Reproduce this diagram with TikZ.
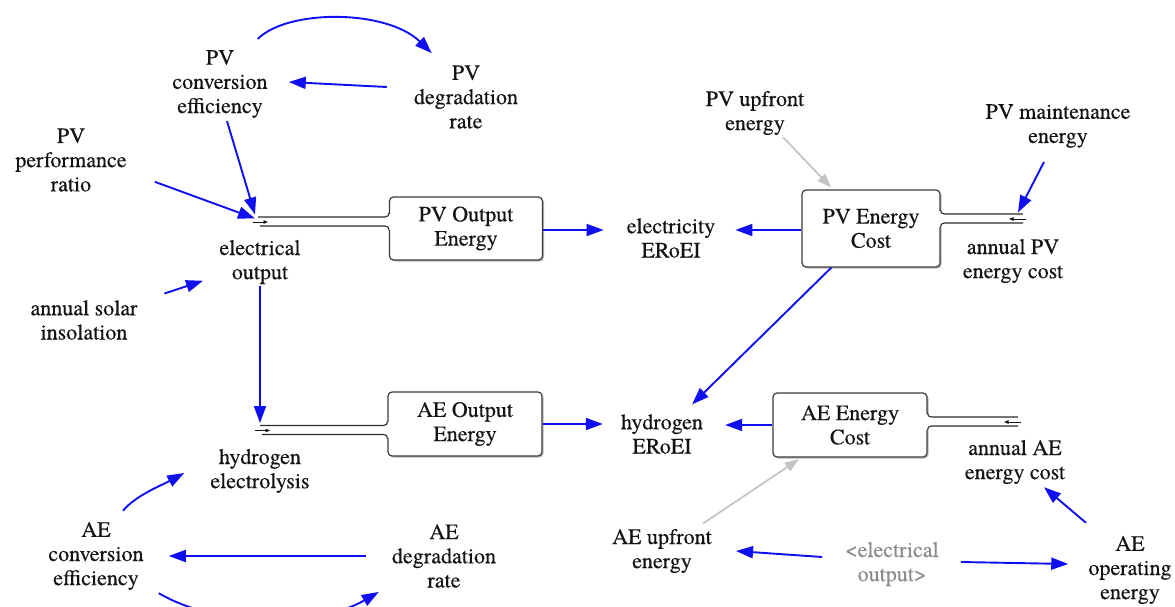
\documentclass[tikz,border=0pt]{standalone}
\usepackage{fontspec}
\setmainfont{texgyretermes}[Extension=.otf,UprightFont=*-regular,BoldFont=*-bold,ItalicFont=*-italic,BoldItalicFont=*-bolditalic,FakeBold=0.25]
\usetikzlibrary{arrows.meta,calc,shadows}
\definecolor{lblue}{RGB}{15,15,240}
\definecolor{lgray}{RGB}{195,195,195}
\definecolor{tgray}{RGB}{140,140,140}
\definecolor{ink}{RGB}{20,20,20}
\definecolor{boxline}{RGB}{60,60,60}
\newcommand{\fsz}{\fontsize{22}{24.2}\selectfont}
\begin{document}
\begin{tikzpicture}[x=1pt,y=-1pt,
 var/.style={align=center,inner sep=2pt,font=\fsz,text=ink},
 stock/.style={draw=boxline,line width=1.2pt,rounded corners=4pt,fill=white,align=center,font=\fsz,text=ink,
   drop shadow={shadow xshift=1.5pt,shadow yshift=-1.5pt,fill=gray!70,opacity=0.8}},
 arr/.style={draw=lblue,line width=1.9pt,-{Triangle[length=17pt,width=12pt]}},
 garr/.style={draw=lgray,line width=1.7pt,-{Triangle[length=14pt,width=10pt]}},
 pipe/.style={draw=ink!90,line width=1.1pt},
 flowtip/.style={draw=ink,line width=0.9pt,-{Triangle[length=4.5pt,width=3.5pt]}}
]
\useasboundingbox[fill=white] (0,0) rectangle (1175,607);

% variables
\node[var] (pvce) at (220,84) {PV\\conversion\\efficiency};
\node[var] (pvdr) at (466,97) {PV\\degradation\\rate};
\node[var] (pvpr) at (71,160) {PV\\performance\\ratio};
\node[var] (eo) at (260,262) {electrical\\output};
\node[var] (asi) at (84,320) {annual solar\\insolation};
\node[var] (eer) at (671,238) {electricity\\ERoEI};
\node[var] (pvue) at (755,113) {PV upfront\\energy};
\node[var] (pvme) at (1058,126) {PV maintenance\\energy};
\node[var] (apvc) at (1013,261) {annual PV\\energy cost};
\node[var] (he) at (260,471) {hydrogen\\electrolysis};
\node[var] (her) at (662,434) {hydrogen\\ERoEI};
\node[var] (aaec) at (1015,462) {annual AE\\energy cost};
\node[var] (aece) at (96,556) {AE\\conversion\\efficiency};
\node[var] (aedr) at (444,556) {AE\\degradation\\rate};
\node[var] (aeue) at (662,551) {AE upfront\\energy};
\node[var,text=tgray] (eo2) at (892,564) {<electrical\\output>};
\node[var] (aeop) at (1130,570) {AE\\operating\\energy};

% stocks
\node[stock,minimum width=153pt,minimum height=63pt] (pvoe) at (466,228.5) {PV Output\\Energy};
\node[stock,minimum width=138pt,minimum height=77pt] (pvec) at (871,228.5) {PV Energy\\Cost};
\node[stock,minimum width=154pt,minimum height=64pt] (aeoe) at (465,424) {AE Output\\Energy};
\node[stock,minimum width=154pt,minimum height=64pt] (aeec) at (850,425) {AE Energy\\Cost};

% valves
\coordinate (v1) at (258,221.5);
\coordinate (v2) at (260,430);
\coordinate (v3) at (1020,218.5);
\coordinate (v4) at (1015,421.5);
\coordinate (b1) at (v1 -| pvoe.west);
\coordinate (b2) at (v2 -| aeoe.west);
\coordinate (b3) at (v3 -| pvec.east);
\coordinate (b4) at (v4 -| aeec.east);

% left-side pipes
\foreach \v/\b in {v1/b1,v2/b2}{
  \fill[white] ($(\b)+(-1,-8)$) rectangle ($(\b)+(2,8)$);
  \draw[pipe] ($(\v)+(0,-4.5)$) -- ($(\b)+(-4,-4.5)$) .. controls ($(\b)+(-1,-4.5)$) and ($(\b)+(0,-6)$) .. ($(\b)+(0,-8.5)$);
  \draw[pipe] ($(\v)+(2,4.5)$) -- ($(\b)+(-4,4.5)$) .. controls ($(\b)+(-1,4.5)$) and ($(\b)+(0,6)$) .. ($(\b)+(0,8.5)$);
  \draw[flowtip] ($(\v)+(-5,0.5)$) -- ($(\v)+(10,0.5)$);
}
% right-side pipes
\foreach \v/\b in {v3/b3,v4/b4}{
  \fill[white] ($(\b)+(-2,-8)$) rectangle ($(\b)+(1,8)$);
  \draw[pipe] ($(\b)+(0,-8.5)$) .. controls ($(\b)+(0,-6)$) and ($(\b)+(1,-4.5)$) .. ($(\b)+(4,-4.5)$) -- ($(\v)+(3,-4.5)$);
  \draw[pipe] ($(\b)+(0,8.5)$) .. controls ($(\b)+(0,6)$) and ($(\b)+(1,4.5)$) .. ($(\b)+(4,4.5)$) -- ($(\v)+(3,4.5)$);
  \draw[flowtip] ($(\v)+(6,0.5)$) -- ($(\v)+(-11,0.5)$);
}

% connectors (blue)
\draw[arr] ($(pvce.north east)+(-12,-9)$) .. controls +(30,-30) and +(-45,-44) .. ($(pvdr.north west)+(20,-10)$);
\draw[arr] ($(pvdr.west)+(-25,-10)$) -- ($(pvce.east)+(19,-2)$);
\draw[arr] ($(pvce.south)+(7,1)$) -- ($(v1)+(-3,-7)$);
\draw[arr] ($(pvpr.south east)+(26,-12)$) -- ($(v1)+(-3,-3)$);
\draw[arr,shorten <=26pt,shorten >=15pt] (asi) -- (eo);
\draw[arr] (eo.south) -- ($(v2)+(0,-7)$);
\draw[arr] ($(pvoe.east)+(0,1.5)$) -- ($(pvoe.east -| eer.west)+(-21,1.5)$);
\draw[arr] ($(pvec.west)+(0,1.5)$) -- ($(pvec.west -| eer.east)+(18,1.5)$);
\draw[arr] ($(pvme.south)+(-14,12)$) -- ($(v3)+(-2,-6)$);
\draw[arr,shorten >=11pt] (pvec) -- (her);
\draw[arr] (aeoe.east) -- ($(aeoe.east -| her.west)+(-16,0)$);
\draw[arr] (aeec.west) -- ($(aeec.west -| her.east)+(20,0)$);
\draw[arr] ($(aece.north)+(27,-9)$) .. controls +(12,-15) and +(-22,12) .. ($(he.west)+(-24,2)$);
\draw[arr,shorten <=24pt,shorten >=23pt] (aedr.west) -- (aece.east);
\draw[arr] ($(aece.south east)+(13,1)$) .. controls +(60,35) and +(-60,35) .. ($(aedr.south west)+(-11,2)$);
\draw[arr] ($(eo2.west)+(-21,-7)$) -- ($(aeue.east)+(22,0)$);
\draw[arr] ($(eo2.east)+(20,-2)$) -- ($(aeop.west)+(-18,-6)$);
\draw[arr] ($(aeop.north)+(-44,-11)$) -- ($(aaec.south)+(29,1)$);

% connectors (gray)
\draw[garr] ($(pvue.south)+(28,0)$) -- ($(pvec.north)+(-40,-2)$);
\draw[garr,shorten <=6pt,shorten >=3pt] (aeue) -- (aeec);
\end{tikzpicture}
\end{document}
